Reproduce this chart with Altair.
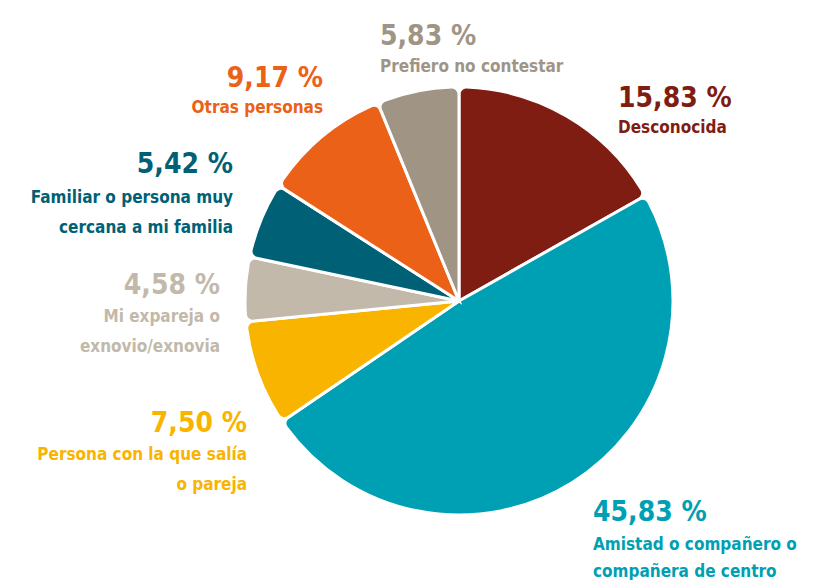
import altair as alt
import pandas as pd

# ---- data ----
categories = [
    "Desconocida",
    "Amistad o compañero o compañera de centro",
    "Persona con la que salía o pareja",
    "Mi expareja o exnovio/exnovia",
    "Familiar o persona muy cercana a mi familia",
    "Otras personas",
    "Prefiero no contestar",
]
values = [15.83, 45.83, 7.50, 4.58, 5.42, 9.17, 5.83]
label_lines = [
    "Desconocida",
    "Amistad o compañero o\ncompañera de centro",
    "Persona con la que salía\no pareja",
    "Mi expareja o\nexnovio/exnovia",
    "Familiar o persona muy\ncercana a mi familia",
    "Otras personas",
    "Prefiero no contestar",
]
colors = ["#7f1d13", "#00a0b4", "#f9b400", "#c2b9aa", "#006075", "#eb6117", "#a09585"]

# ---- layout (annotation placement, chart pixel coords) ----
label_align = ["left", "left", "right", "right", "right", "right", "left"]
label_x = [610, 585, 239, 212, 225, 315, 372]
pct_y = [99, 513, 424, 286, 165, 79, 37]
txt_y = [125, 542, 452, 314, 195, 105, 64]

df = pd.DataFrame({
    "cat": categories,
    "value": values,
    "idx": list(range(len(categories))),
    "pct": [f"{v:.2f}".replace(".", ",") + " %" for v in values],
    "lbl": label_lines,
    "align": label_align,
    "lx": label_x,
    "py": pct_y,
    "ty": txt_y,
})

FONT = "DejaVu Sans Condensed"
color_scale = alt.Scale(domain=categories, range=colors)

base = alt.Chart(df)

pie = base.mark_arc(
    outerRadius=214, cornerRadius=7, stroke="white", strokeWidth=3
).encode(
    theta=alt.Theta("value:Q", stack=True),
    order=alt.Order("idx:Q"),
    color=alt.Color("cat:N", scale=color_scale, legend=None),
    x=alt.value(451),
    y=alt.value(293),
)

layers = [pie]
for al, lh in [("left", 27), ("right", 30)]:
    sub = base.transform_filter(alt.datum.align == al)
    layers.append(
        sub.mark_text(font=FONT, fontSize=28, fontWeight="bold", align=al,
                      baseline="alphabetic").encode(
            x=alt.X("lx:Q", scale=None),
            y=alt.Y("py:Q", scale=None),
            text="pct:N",
            color=alt.Color("cat:N", scale=color_scale, legend=None),
        )
    )
    layers.append(
        sub.mark_text(font=FONT, fontSize=17, fontWeight="bold", align=al,
                      baseline="alphabetic", lineBreak="\n", lineHeight=lh).encode(
            x=alt.X("lx:Q", scale=None),
            y=alt.Y("ty:Q", scale=None),
            text="lbl:N",
            color=alt.Color("cat:N", scale=color_scale, legend=None),
        )
    )

chart = alt.layer(*layers).properties(
    width=803, height=572, padding=0,
    autosize=alt.AutoSizeParams(type="none"),
).configure_view(stroke=None)

chart.save("out.html", embed_options={"renderer": "svg", "actions": False})
